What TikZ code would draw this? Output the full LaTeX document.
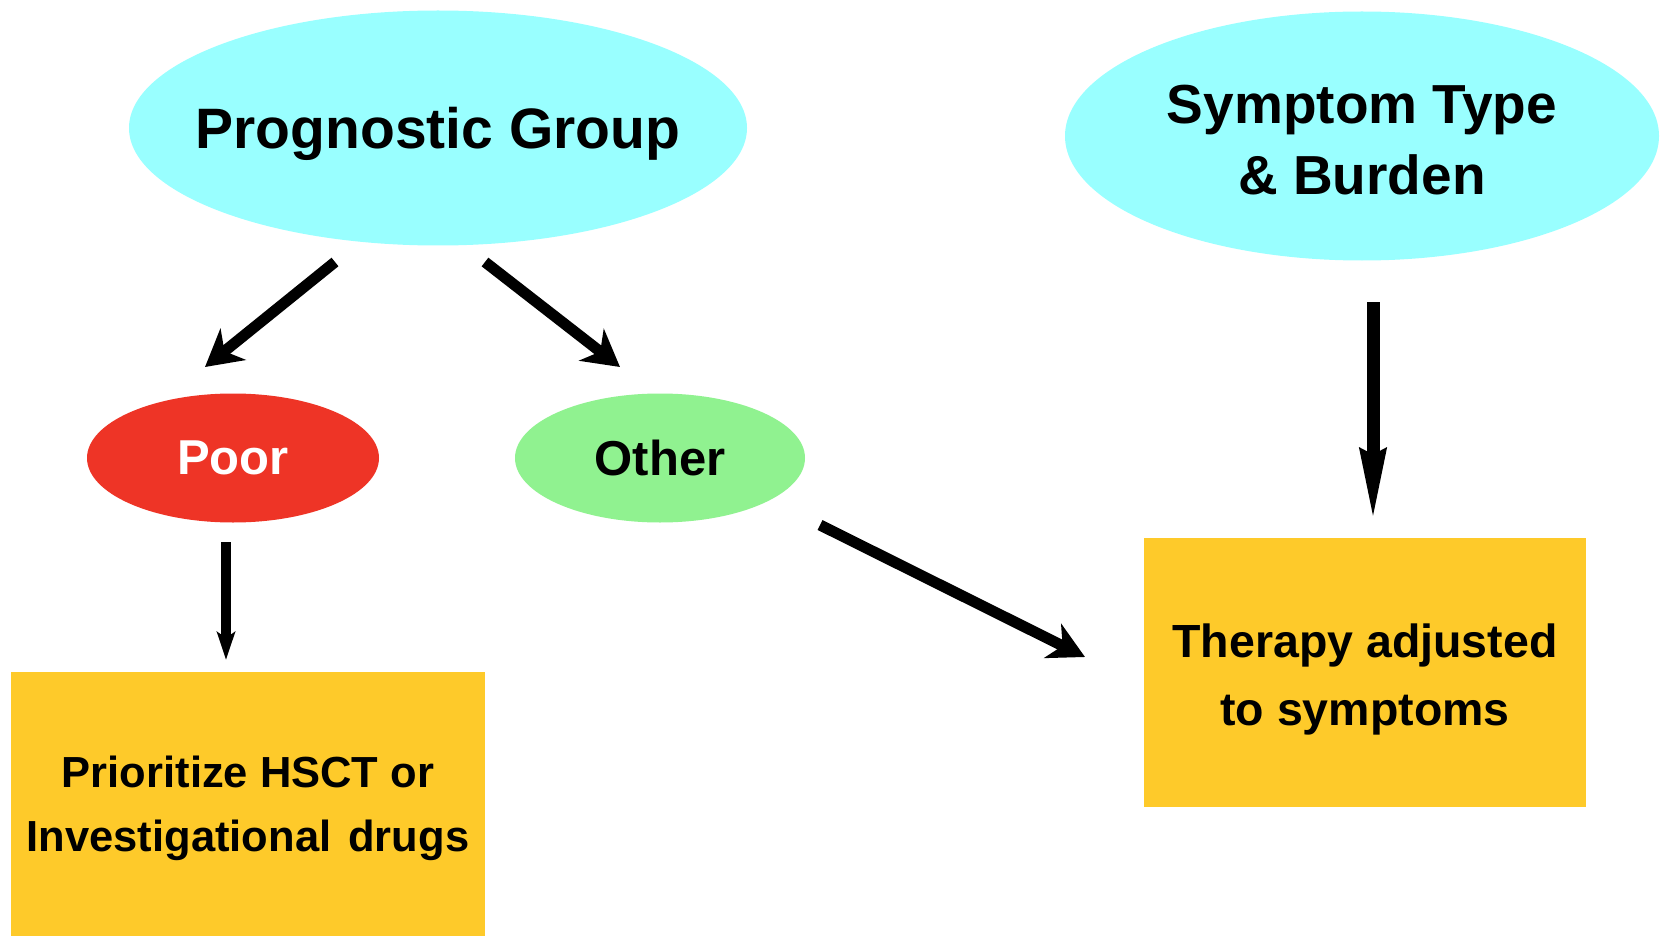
\documentclass[tikz,border=0pt]{standalone}
\usepackage{fontspec}
\setmainfont{Liberation Sans}
\usetikzlibrary{shapes.geometric,arrows.meta}
\definecolor{cyanfill}{RGB}{153,255,255}
\definecolor{poorred}{RGB}{238,52,38}
\definecolor{othergreen}{RGB}{144,242,144}
\definecolor{boxgold}{RGB}{254,202,42}
\tikzset{
  oval/.style={ellipse, draw=none, inner sep=0pt},
  ovaltext/.style={align=center, inner sep=0pt, font=\bfseries},
  goldbox/.style={rectangle, draw=none, fill=boxgold, inner sep=0pt, align=center},
  fatarrow/.style={draw=black, line width=11pt},
}
\begin{document}
\begin{tikzpicture}[x=1pt,y=-1pt]
\useasboundingbox (0,0) rectangle (1660,936);
\fill[white] (0,0) rectangle (1660,936);
% nodes
\node[oval, fill=cyanfill, minimum width=618pt, minimum height=235pt,
      label={[ovaltext, text depth=0pt, font=\fontsize{57}{68}\selectfont\bfseries]center:Prognostic Group}] (pg) at (438,128) {};
\node[oval, fill=cyanfill, minimum width=594pt, minimum height=249pt,
      label={[ovaltext, yshift=-4pt, font=\fontsize{55}{71}\selectfont\bfseries]center:{Symptom Type\\\& Burden}}] (st) at (1362,136) {};
\node[oval, fill=poorred, minimum width=292pt, minimum height=129pt,
      label={[ovaltext, text=white, font=\fontsize{49}{59}\selectfont\bfseries]center:Poor}] (poor) at (233,458) {};
\node[oval, fill=othergreen, minimum width=290pt, minimum height=129pt,
      label={[ovaltext, font=\fontsize{49}{59}\selectfont\bfseries]center:Other}] (other) at (660,458) {};
\node[goldbox, minimum width=474pt, minimum height=264pt] (hsct) at (248,804) {};
\node[ovaltext, yshift=-4pt, font=\fontsize{43.5}{64}\selectfont\bfseries] (hsctt) at (hsct.center)
      {Prioritize HSCT or\\Investigational\hspace{5pt} drugs};
\node[goldbox, minimum width=442pt, minimum height=269pt] (ther) at (1365,672) {};
\node[ovaltext, yshift=-7pt, font=\fontsize{46.5}{68}\selectfont\bfseries] (thert) at (ther.center)
      {Therapy adjusted\\to symptoms};
% connector end points
\coordinate (a1s) at (335,262); \coordinate (a1e) at (205,367);
\coordinate (a2s) at (485,262); \coordinate (a2e) at (620,367);
\coordinate (a3s) at (226,542); \coordinate (a3e) at (226,660);
\coordinate (a4s) at (1373,302); \coordinate (a4e) at (1373,523);
\coordinate (a5s) at (820,525); \coordinate (a5e) at (1085,657);
% connectors
\draw[fatarrow, -{Stealth[length=36pt,width=40pt,inset=11pt]}] (a1s) -- (a1e);
\draw[fatarrow, -{Stealth[length=36pt,width=40pt,inset=11pt]}] (a2s) -- (a2e);
\draw[fatarrow, line width=10pt, -{Stealth[length=28pt,width=18pt,inset=6pt]}] (a3s) -- (a3e);
\draw[fatarrow, line width=13pt, -{Stealth[length=72pt,width=24pt,inset=4pt]}] (a4s) -- (a4e);
\draw[fatarrow, -{Stealth[length=36pt,width=38pt,inset=11pt]}] (a5s) -- (a5e);
\end{tikzpicture}
\end{document}
